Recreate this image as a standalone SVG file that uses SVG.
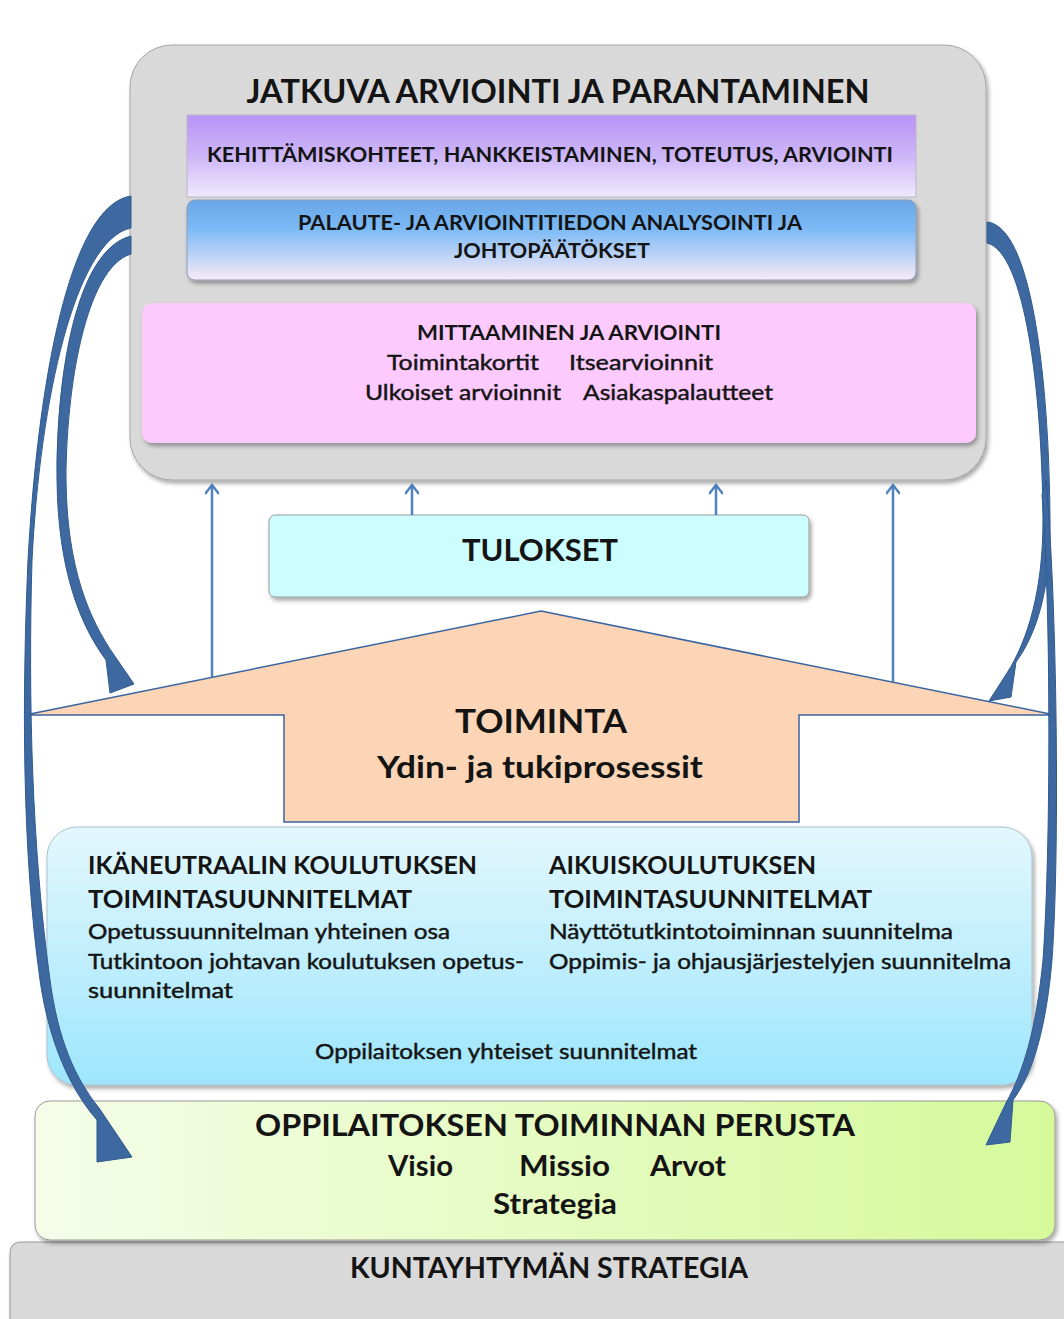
<svg xmlns="http://www.w3.org/2000/svg" width="1064" height="1319" viewBox="0 0 1064 1319">
<defs>
<linearGradient id="gPurple" x1="0" y1="0" x2="0" y2="1">
<stop offset="0" stop-color="#b893f6"/><stop offset="0.5" stop-color="#cdb6f8"/><stop offset="1" stop-color="#efe9fc"/>
</linearGradient>
<linearGradient id="gBlueBand" x1="0" y1="0" x2="0" y2="1">
<stop offset="0" stop-color="#6aa6e6"/><stop offset="0.35" stop-color="#7ab9f6"/><stop offset="1" stop-color="#f8eaf6"/>
</linearGradient>
<linearGradient id="gPlans" x1="0" y1="0" x2="0" y2="1">
<stop offset="0" stop-color="#e3f7fd"/><stop offset="1" stop-color="#9ee6fc"/>
</linearGradient>
<linearGradient id="gGreen" x1="0" y1="0" x2="1" y2="0">
<stop offset="0" stop-color="#f5fde9"/><stop offset="1" stop-color="#d5f99a"/>
</linearGradient>
<filter id="sh" x="-5%" y="-5%" width="110%" height="115%">
<feDropShadow dx="2" dy="3" stdDeviation="2" flood-color="#000" flood-opacity="0.35"/>
</filter>
<marker id="open" viewBox="0 0 14 14" refX="12" refY="7" markerWidth="14" markerHeight="14" markerUnits="userSpaceOnUse" orient="auto">
<path d="M3,0 L12,7 L3,14" fill="none" stroke="#4f81bd" stroke-width="2.5"/>
</marker>
</defs>
<style>
text{font-family:Lato,"Liberation Sans","DejaVu Sans",sans-serif;fill:#141414}
.b{font-weight:bold}
.m{stroke:#141414;stroke-width:0.45}
.box{stroke:#9a9a9a;stroke-width:1}
.thin{stroke:#4f81bd;stroke-width:2.5;fill:none}
.curve{fill:#3d69a0;stroke:#2f5b90;stroke-width:1}
</style>
<rect width="1064" height="1319" fill="#ffffff"/>

<g id="kuntayhtyma">
<rect class="box" x="10" y="1242" width="1070" height="100" rx="10" fill="#d9d9d9" filter="url(#sh)"/>
<text class="b" x="549" y="1278" font-size="28" text-anchor="middle" textLength="398" lengthAdjust="spacingAndGlyphs">KUNTAYHTYMÄN STRATEGIA</text>
</g>

<g id="perusta">
<rect class="box" x="35" y="1101" width="1020" height="139" rx="15" fill="url(#gGreen)" filter="url(#sh)"/>
<text class="b" x="555" y="1136" font-size="31" text-anchor="middle" textLength="600" lengthAdjust="spacingAndGlyphs">OPPILAITOKSEN TOIMINNAN PERUSTA</text>
<text class="b" x="388" y="1176" font-size="28" textLength="65" lengthAdjust="spacingAndGlyphs">Visio</text>
<text class="b" x="519" y="1176" font-size="28" textLength="91" lengthAdjust="spacingAndGlyphs">Missio</text>
<text class="b" x="650" y="1176" font-size="28" textLength="76" lengthAdjust="spacingAndGlyphs">Arvot</text>
<text class="b" x="493" y="1214" font-size="28" textLength="124" lengthAdjust="spacingAndGlyphs">Strategia</text>
</g>

<g id="suunnitelmat">
<rect x="47" y="827" width="985" height="258" rx="30" fill="url(#gPlans)" stroke="#a9c3cf" stroke-width="1" filter="url(#sh)"/>
<text class="b" x="88" y="874" font-size="25" textLength="389" lengthAdjust="spacingAndGlyphs">IKÄNEUTRAALIN KOULUTUKSEN</text>
<text class="b" x="88" y="908" font-size="25" textLength="324" lengthAdjust="spacingAndGlyphs">TOIMINTASUUNNITELMAT</text>
<text class="m" x="88" y="939" font-size="21" textLength="362" lengthAdjust="spacingAndGlyphs">Opetussuunnitelman yhteinen osa</text>
<text class="m" x="88" y="969" font-size="21" textLength="436" lengthAdjust="spacingAndGlyphs">Tutkintoon johtavan koulutuksen opetus-</text>
<text class="m" x="88" y="998" font-size="21" textLength="145" lengthAdjust="spacingAndGlyphs">suunnitelmat</text>
<text class="b" x="549" y="874" font-size="25" textLength="267" lengthAdjust="spacingAndGlyphs">AIKUISKOULUTUKSEN</text>
<text class="b" x="549" y="908" font-size="25" textLength="323" lengthAdjust="spacingAndGlyphs">TOIMINTASUUNNITELMAT</text>
<text class="m" x="549" y="939" font-size="21" textLength="404" lengthAdjust="spacingAndGlyphs">Näyttötutkintotoiminnan suunnitelma</text>
<text class="m" x="549" y="969" font-size="21" textLength="462" lengthAdjust="spacingAndGlyphs">Oppimis- ja ohjausjärjestelyjen suunnitelma</text>
<text class="m" x="315" y="1059" font-size="21" textLength="382" lengthAdjust="spacingAndGlyphs">Oppilaitoksen yhteiset suunnitelmat</text>
</g>

<g id="toiminta">
<polygon points="541,611 1055,715 799,715 799,822 284,822 284,715 25,715" fill="#fbd5b5" stroke="#3b64a0" stroke-width="1.5"/>
<text class="b" x="541" y="733" font-size="33" text-anchor="middle" textLength="172" lengthAdjust="spacingAndGlyphs">TOIMINTA</text>
<text class="b" x="540" y="778" font-size="30" text-anchor="middle" textLength="326" lengthAdjust="spacingAndGlyphs">Ydin- ja tukiprosessit</text>
</g>

<g id="tulokset">
<rect class="box" x="269" y="515" width="540" height="82" rx="6" fill="#ccfeff" filter="url(#sh)"/>
<text class="b" x="540" y="561" font-size="31" text-anchor="middle" textLength="156" lengthAdjust="spacingAndGlyphs">TULOKSET</text>
</g>

<g id="jatkuva">
<rect x="130" y="45" width="856" height="435" rx="42" fill="#d9d9d9" stroke="#a6a6a6" stroke-width="1" filter="url(#sh)"/>
<text class="b" x="558" y="103" font-size="32" text-anchor="middle" textLength="623" lengthAdjust="spacingAndGlyphs">JATKUVA ARVIOINTI JA PARANTAMINEN</text>
<g id="kehittaminen">
<rect x="187" y="115" width="729" height="82" fill="url(#gPurple)" stroke="#bdb6c8" stroke-width="1"/>
<text class="b" x="550" y="162" font-size="21" text-anchor="middle" textLength="686" lengthAdjust="spacingAndGlyphs">KEHITTÄMISKOHTEET, HANKKEISTAMINEN, TOTEUTUS, ARVIOINTI</text>
</g>
<g id="analysointi">
<rect x="187" y="200" width="729" height="80" rx="8" fill="url(#gBlueBand)" stroke="#8d9fb8" stroke-width="1" filter="url(#sh)"/>
<text class="b" x="550" y="230" font-size="21" text-anchor="middle" textLength="504" lengthAdjust="spacingAndGlyphs">PALAUTE- JA ARVIOINTITIEDON ANALYSOINTI JA</text>
<text class="b" x="552" y="258" font-size="21" text-anchor="middle" textLength="196" lengthAdjust="spacingAndGlyphs">JOHTOPÄÄTÖKSET</text>
</g>
<g id="mittaaminen">
<rect x="142" y="303" width="834" height="140" rx="10" fill="#fdcafd" filter="url(#sh)"/>
<text class="b" x="569" y="340" font-size="21" text-anchor="middle" textLength="304" lengthAdjust="spacingAndGlyphs">MITTAAMINEN JA ARVIOINTI</text>
<text class="m" x="387" y="370" font-size="22" textLength="152" lengthAdjust="spacingAndGlyphs">Toimintakortit</text>
<text class="m" x="569" y="370" font-size="22" textLength="144" lengthAdjust="spacingAndGlyphs">Itsearvioinnit</text>
<text class="m" x="365" y="400" font-size="22" textLength="196" lengthAdjust="spacingAndGlyphs">Ulkoiset arvioinnit</text>
<text class="m" x="583" y="400" font-size="22" textLength="190" lengthAdjust="spacingAndGlyphs">Asiakaspalautteet</text>
</g>
</g>

<g id="connectors">
<path class="thin" d="M212,677 V485" marker-end="url(#open)"/>
<path class="thin" d="M412,515 V485" marker-end="url(#open)"/>
<path class="thin" d="M716,515 V485" marker-end="url(#open)"/>
<path class="thin" d="M893,682 V485" marker-end="url(#open)"/>
<path class="curve" d="M131,196 C70,205 38,380 28,560 C22,700 22,850 40,980 C50,1050 75,1095 97,1120 L97,1162 L132,1157 L99,1108 C75,1078 58,1040 50,980 C32,850 28,700 32,560 C40,400 75,240 131,228 Z"/>
<path class="curve" d="M131,236 C75,250 56,380 57,480 C58,570 80,625 106,660 L110,693 L134,684 L114,655 C90,620 67,570 66,480 C66,390 85,268 131,254 Z"/>
<path class="curve" d="M987,222 C1032,226 1049,380 1050,520 C1051,590 1036,635 1016,662 L1011,697 L989,701 L1007,673 C1028,640 1043,590 1043,520 C1042,390 1025,252 987,243 Z"/>
<path class="curve" d="M1046,480 C1057,600 1060,850 1052,960 C1046,1030 1032,1075 1013,1100 L1010,1142 L986,1145 L1006,1103 C1024,1070 1036,1030 1043,960 C1051,850 1051,600 1042,495 Z"/>
</g>
</svg>
